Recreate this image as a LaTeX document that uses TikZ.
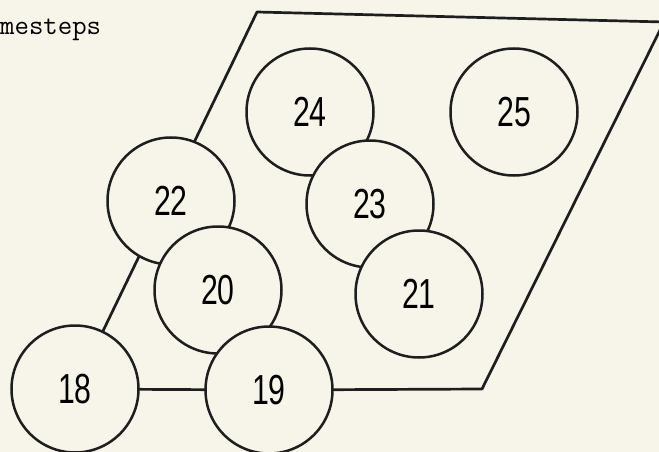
\documentclass[tikz,border=0pt]{standalone}
\usepackage{fontspec}
\newfontfamily\stepfont[FakeStretch=0.72]{Liberation Sans}
\usetikzlibrary{backgrounds}
\definecolor{paper}{HTML}{F7F4EA}
\definecolor{ink}{HTML}{1E1E1E}

\begin{document}
\begin{tikzpicture}[x=1pt, y=-1pt,
  cell/.style={draw=ink, circle, line width=2.5pt, fill=paper, minimum size=127pt,
    inner sep=0pt, font=\stepfont\fontsize{42}{42}\selectfont},
  edge/.style={draw=ink, line width=2.7pt, line join=round}]
\useasboundingbox (0,0) rectangle (659,452);

% cut-off caption
\node[anchor=base west, inner sep=0pt, font=\ttfamily\fontsize{28}{28}\selectfont] (caption) at (0,35) {mesteps};

% circles, lower ones drawn last
\node[cell] (c22) at (171,201) {22};
\node[cell] (c24) at (310,112) {24};
\node[cell] (c25) at (514,112) {25};
\node[cell] (c23) at (370,204) {23};
\node[cell] (c20) at (218,290) {20};
\node[cell] (c21) at (419,294) {21};
\node[cell] (c19) at (269,390) {19};
\node[cell] (c18) at (75,389) {18};

\coordinate (tl) at (257,12);
\coordinate (tr) at (664,22);
\coordinate (br) at (482,389);

\begin{scope}[on background layer]
\fill[paper] (0,0) rectangle (659,452);
\draw[edge] (c18.center) -- (tl) -- (tr) -- (br) -- (c19.center) -- (c18.center);
\end{scope}
\end{tikzpicture}
\end{document}
